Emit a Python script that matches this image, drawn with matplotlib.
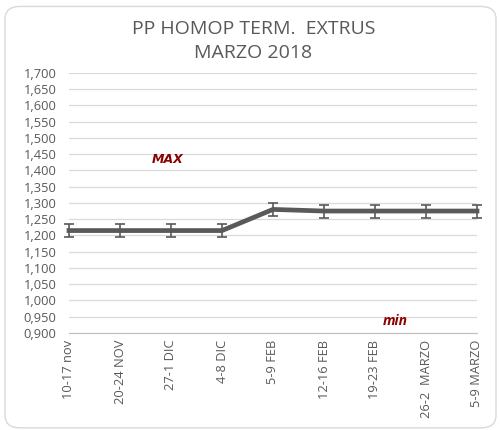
import numpy as np
import matplotlib.pyplot as plt
from matplotlib.patches import FancyBboxPatch
from matplotlib.ticker import FuncFormatter

categories = ['10-17 nov', '20-24 NOV', '27-1 DIC', '4-8 DIC', '5-9 FEB',
              '12-16 FEB', '19-23 FEB', '26-2  MARZO', '5-9 MARZO']
values = [1.215, 1.215, 1.215, 1.215, 1.280, 1.275, 1.275, 1.275, 1.275]
errors = [0.02] * 9

plt.rcParams['font.family'] = ['Open Sans', 'DejaVu Sans']
grey = '#595959'

fig = plt.figure(figsize=(5, 4.3), dpi=100)
fig.patches.append(FancyBboxPatch((0.01, 0.005), 0.982, 0.98,
                                  boxstyle='round,pad=0,rounding_size=0.03',
                                  transform=fig.transFigure, facecolor='white',
                                  edgecolor='#d9d9d9', linewidth=1, zorder=-1))
ax = fig.add_axes([0.138, 0.2256, 0.816, 0.605])
ax.patch.set_alpha(0)

x = np.arange(len(categories))
ax.errorbar(x, values, yerr=errors, color=grey, linewidth=3.4,
            ecolor=grey, elinewidth=1.2, capsize=3.5, capthick=1.2, zorder=3,
            clip_on=False)

ax.set_xlim(0, len(categories) - 1)
ax.set_ylim(0.9, 1.7)
ax.set_yticks(np.arange(0.9, 1.7001, 0.05))
ax.yaxis.set_major_formatter(FuncFormatter(lambda v, p: f'{v:.3f}'.replace('.', ',')))
ax.set_xticks(x)
ax.set_xticklabels(categories, rotation=90, fontsize=9.3, color=grey)
ax.tick_params(axis='y', length=0, labelsize=9.3, labelcolor=grey, pad=9)
ax.tick_params(axis='x', length=0, pad=5)
ax.grid(axis='y', color='#d9d9d9', linewidth=0.9)
ax.set_axisbelow(True)
for s in ['top', 'right', 'left']:
    ax.spines[s].set_visible(False)
ax.spines['bottom'].set_color('#bfbfbf')

ax.text(1.94, 1.435, 'MAX', color='#8b0000', fontsize=9, fontweight='bold',
        fontstyle='italic', ha='center', va='center', family='DejaVu Sans')
ax.text(6.39, 0.937, 'min', color='#8b0000', fontsize=10, fontweight='bold',
        fontstyle='italic', ha='center', va='center')

fig.text(0.507, 0.932, 'PP HOMOP TERM.  EXTRUS', ha='center', va='center',
         fontsize=14, color=grey)
fig.text(0.507, 0.877, 'MARZO 2018', ha='center', va='center',
         fontsize=14, color=grey)

fig.savefig('out.png')
